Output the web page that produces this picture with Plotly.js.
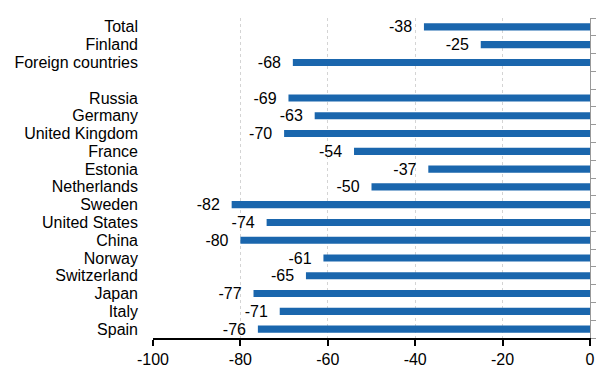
<!DOCTYPE html>
<html>
<head>
<meta charset="utf-8">
<script src="https://cdn.plot.ly/plotly-3.0.1.min.js"></script>
<style>html,body{margin:0;padding:0;background:#fff;}#chart{width:614px;height:378px;}</style>
</head>
<body>
<div id="chart"></div>
<script>
const categories = ["Total", "Finland", "Foreign countries", " ", "Russia", "Germany", "United Kingdom", "France", "Estonia", "Netherlands", "Sweden", "United States", "China", "Norway", "Switzerland", "Japan", "Italy", "Spain"];
const values = [-38, -25, -68, null, -69, -63, -70, -54, -37, -50, -82, -74, -80, -61, -65, -77, -71, -76];
const labels = values.map(v => v === null ? "" : String(v) + "\u00a0\u00a0");
const xTicks = [-100, -80, -60, -40, -20, 0];

const n = categories.length;
const boundaries = [];
for (let i = 0; i <= n; i++) boundaries.push(i - 0.5);

const FONT = "Liberation Sans, Arial, sans-serif";

const trace = {
  type: "bar",
  orientation: "h",
  y: categories,
  x: values,
  text: labels,
  textposition: "outside",
  constraintext: "none",
  cliponaxis: false,
  textfont: {family: FONT, size: 16, color: "#000"},
  marker: {color: "#1a66ad"},
  width: 0.4,
  hoverinfo: "none"
};

// invisible helper so the right-hand boundary axis is drawn
const helper = {
  type: "scatter", mode: "markers",
  x: [null], y: [null],
  yaxis: "y2",
  marker: {opacity: 0},
  hoverinfo: "none", showlegend: false
};

const layout = {
  width: 614, height: 378,
  margin: {l: 153, r: 24, t: 18, b: 40},
  paper_bgcolor: "#fff", plot_bgcolor: "#fff",
  showlegend: false,
  font: {family: FONT, size: 16, color: "#000"},
  xaxis: {
    range: [-100, 0],
    tickvals: xTicks,
    ticktext: xTicks.map(String),
    showgrid: true, gridcolor: "#d4d4d4", griddash: "dot", gridwidth: 1,
    zeroline: false,
    showline: true, linecolor: "#000", linewidth: 2,
    ticks: "outside", ticklen: 6, tickwidth: 2, tickcolor: "#000",
    tickfont: {size: 16, color: "#000"},
    fixedrange: true
  },
  yaxis: {
    type: "category",
    categoryorder: "array", categoryarray: categories,
    range: [n - 0.5, -0.5],
    tickmode: "array", tickvals: categories, ticktext: categories,
    showgrid: false, zeroline: false, showline: false,
    ticks: "", ticklabelstandoff: 14,
    tickfont: {size: 16, color: "#000"},
    fixedrange: true
  },
  yaxis2: {
    overlaying: "y", side: "right",
    range: [n - 0.5, -0.5],
    tickmode: "array",
    tickvals: boundaries,
    showticklabels: false,
    showgrid: false, zeroline: false,
    showline: true, linecolor: "#999", linewidth: 1,
    ticks: "outside", ticklen: 5, tickcolor: "#999", tickwidth: 1,
    fixedrange: true
  }
};

Plotly.newPlot("chart", [trace, helper], layout, {displayModeBar: false, staticPlot: true});
</script>
</body>
</html>
